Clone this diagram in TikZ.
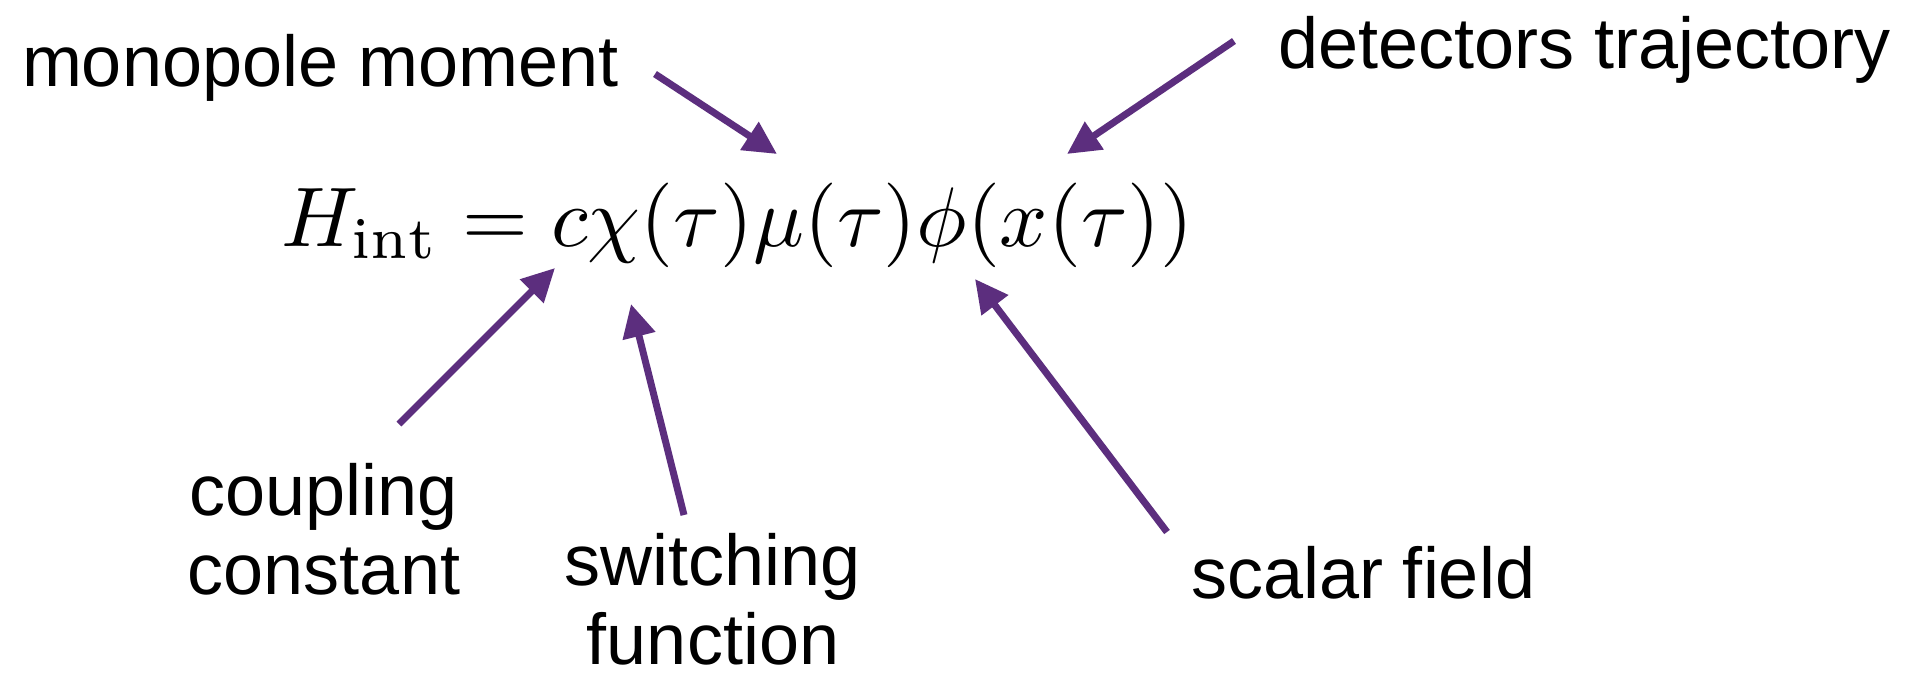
\documentclass[tikz,border=0pt]{standalone}
\usepackage{fontspec}
\newfontfamily\lblfont{Liberation Sans}
\usetikzlibrary{arrows.meta}
\definecolor{arrowpurple}{RGB}{92,46,126}
\tikzset{
  lbl/.style={inner sep=0pt, outer sep=0pt, font=\lblfont\fontsize{72}{79}\selectfont, text=black},
  pointer/.style={draw=arrowpurple, line width=7pt, -{Triangle[length=33pt,width=32pt]}},
}
\begin{document}
\begin{tikzpicture}[x=1pt,y=-1pt]
\useasboundingbox[fill=white] (0,0) rectangle (1932,672);
% equation
\node[inner sep=0pt, anchor=base west] (eq) at (281,246)
  {\resizebox{912pt}{!}{$H_{\mathrm{int}}=c\chi(\tau)\mu(\tau)\phi(x(\tau))$}};
% labels
\node[lbl, anchor=base west] (monopole) at (22,86) {monopole moment};
\node[lbl, anchor=base west] (detectors) at (1278,68) {detectors trajectory};
\node[lbl, anchor=north, align=center] (coupling) at (324,463) {coupling\\constant};
\node[lbl, anchor=north, align=center] (switching) at (713,533) {switching\\function};
\node[lbl, anchor=base west] (scalar) at (1191,598) {scalar field};
% arrow end points
\coordinate (monoTail) at (655,74);
\coordinate (muTip) at (777,154);
\coordinate (detTail) at (1234,41);
\coordinate (xTip) at (1067,154);
\coordinate (coupTail) at (399,424);
\coordinate (cTip) at (555,268);
\coordinate (switchTail) at (684,515);
\coordinate (chiTip) at (631,304);
\coordinate (scalTail) at (1167,532);
\coordinate (phiTip) at (975,279);
% arrows
\draw[pointer] (monoTail) -- (muTip);
\draw[pointer] (detTail) -- (xTip);
\draw[pointer] (coupTail) -- (cTip);
\draw[pointer] (switchTail) -- (chiTip);
\draw[pointer] (scalTail) -- (phiTip);
\end{tikzpicture}
\end{document}
